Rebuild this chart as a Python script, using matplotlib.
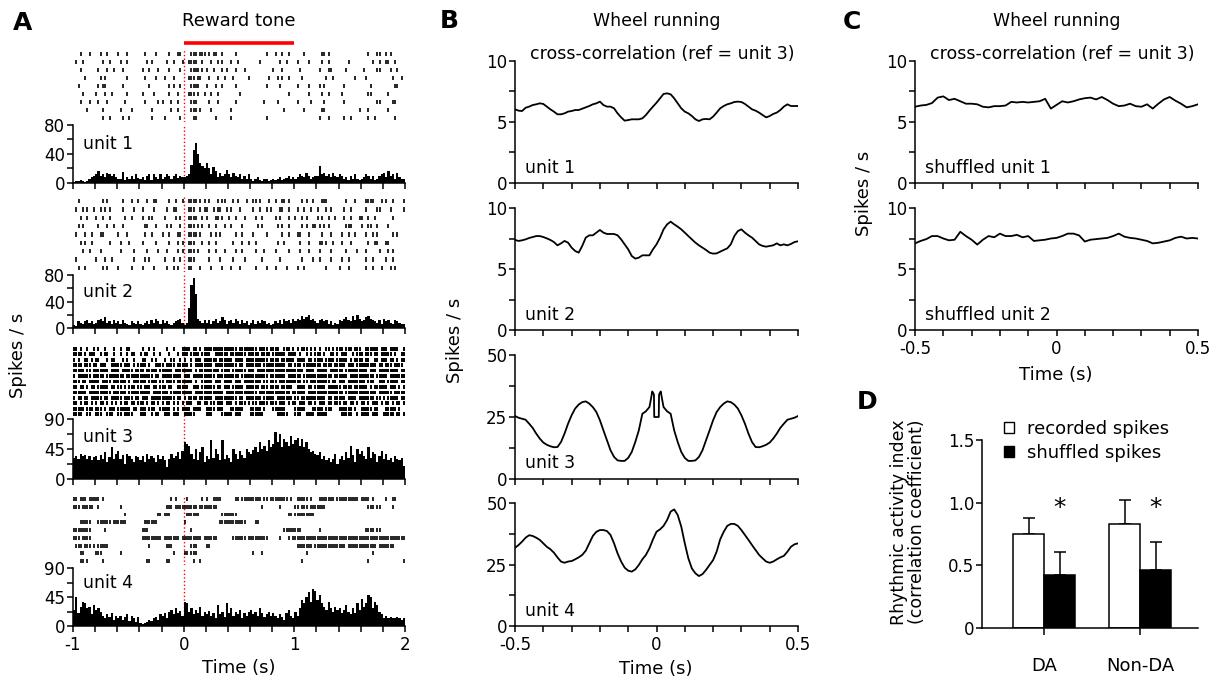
import numpy as np
import matplotlib
matplotlib.use("Agg")
import matplotlib.pyplot as plt
import matplotlib.transforms as mtransforms
from matplotlib.ticker import MultipleLocator, FuncFormatter
from matplotlib.patches import Patch

# ---------------- data ----------------
# PSTH, 20 ms bins from -1 s to 2 s (150 bins), spikes / s
psth_unit1 = [
    2, 3, 3, 4, 3, 2, 3, 5, 8, 10,
    12, 17, 10, 12, 8, 14, 12, 10, 13, 8,
    5, 6, 15, 4, 8, 6, 10, 5, 12, 7,
    6, 8, 4, 10, 12, 4, 13, 8, 6, 12,
    5, 8, 12, 10, 6, 9, 12, 7, 10, 8,
    8, 10, 12, 25, 45, 55, 40, 28, 24, 20,
    28, 20, 12, 22, 16, 8, 14, 10, 12, 18,
    12, 8, 14, 10, 8, 12, 6, 10, 5, 12,
    6, 3, 5, 8, 4, 3, 5, 6, 3, 4,
    5, 4, 6, 8, 4, 5, 7, 10, 5, 8,
    6, 8, 12, 10, 8, 14, 10, 5, 8, 10,
    10, 24, 12, 14, 10, 12, 8, 14, 10, 8,
    12, 10, 6, 8, 4, 10, 6, 12, 5, 4,
    5, 8, 12, 10, 6, 10, 4, 5, 10, 12,
    14, 8, 16, 10, 12, 6, 14, 8, 6, 5,
]
psth_unit2 = [
    5, 3, 10, 8, 6, 10, 12, 8, 10, 6,
    8, 12, 14, 10, 16, 8, 10, 6, 12, 8,
    10, 6, 12, 8, 6, 4, 10, 8, 6, 10,
    6, 4, 8, 10, 6, 12, 8, 14, 10, 6,
    12, 8, 10, 6, 4, 8, 10, 12, 14, 8,
    5, 8, 30, 65, 75, 52, 14, 10, 8, 12,
    8, 12, 6, 10, 14, 8, 10, 16, 12, 6,
    10, 12, 8, 14, 10, 6, 12, 8, 10, 4,
    8, 12, 6, 10, 8, 12, 10, 6, 8, 4,
    6, 10, 8, 12, 6, 14, 10, 12, 8, 14,
    10, 14, 12, 18, 14, 16, 20, 12, 14, 10,
    8, 12, 14, 10, 12, 6, 10, 4, 8, 6,
    12, 10, 14, 16, 12, 10, 18, 12, 20, 14,
    10, 12, 16, 18, 14, 12, 10, 8, 12, 6,
    14, 10, 12, 8, 6, 12, 10, 8, 6, 6,
]
psth_unit3 = [
    32, 35, 30, 38, 34, 36, 30, 35, 28, 33,
    34, 28, 36, 30, 40, 25, 33, 48, 30, 38,
    42, 30, 36, 22, 38, 35, 30, 25, 35, 33,
    28, 35, 26, 38, 30, 34, 32, 25, 36, 30,
    35, 28, 18, 30, 38, 32, 34, 40, 30, 42,
    55, 52, 50, 38, 30, 45, 28, 40, 48, 25,
    35, 30, 58, 32, 45, 38, 28, 58, 30, 36,
    32, 25, 45, 38, 30, 42, 36, 32, 45, 40,
    38, 44, 48, 40, 55, 45, 50, 42, 58, 48,
    52, 70, 55, 68, 48, 60, 56, 50, 65, 52,
    58, 62, 50, 60, 48, 55, 45, 40, 42, 38,
    36, 40, 30, 35, 28, 32, 25, 30, 38, 22,
    30, 35, 28, 40, 32, 50, 36, 25, 45, 38,
    42, 35, 30, 48, 32, 40, 38, 25, 35, 42,
    30, 38, 28, 32, 25, 35, 30, 28, 32, 20,
]
psth_unit4 = [
    25, 45, 20, 30, 38, 35, 28, 30, 18, 32,
    25, 28, 22, 15, 12, 18, 14, 20, 10, 16,
    12, 15, 10, 14, 18, 8, 16, 12, 6, 14,
    5, 3, 4, 6, 10, 8, 12, 14, 10, 18,
    15, 20, 12, 22, 25, 18, 28, 20, 24, 15,
    38, 35, 22, 28, 18, 25, 20, 30, 15, 22,
    18, 24, 15, 20, 12, 32, 18, 22, 14, 35,
    20, 28, 15, 22, 18, 25, 12, 20, 16, 22,
    25, 18, 22, 15, 28, 20, 14, 18, 22, 16,
    20, 15, 12, 18, 14, 10, 20, 25, 16, 12,
    22, 15, 28, 40, 35, 45, 52, 38, 58, 55,
    40, 48, 35, 30, 25, 38, 28, 22, 30, 25,
    28, 20, 25, 32, 22, 18, 28, 20, 35, 25,
    42, 30, 35, 48, 45, 28, 38, 32, 22, 18,
    12, 15, 12, 14, 12, 12, 14, 12, 10, 12,
]

# raster trials: 15 groups of 10 bins (20 ms each) per trial, '|' = spike
raster_unit1 = [
    "...|...|.. ..|..|.... |...|..... ..|....|.. ...|...||. ...|||.||| .|.||..|.. ...|...... .......|.. .|..|..|.. ....|..... ..||.|.... .......... ...|...||. .|.|......",
    ".|..|..... ...|..|... .|..|..... ...|.|.... ..|..|...| ..||||..|. ..|..|.|.. .|..|..... ....|..... ...|..|... .|....|... ..|..|.... ....|..... .....|..|. .||..|....",
    "...|...... .|...|..|. ..|....... .|..|...|. ...|....|. ...||||.|. |..|...|.| ...|...|.. .......... |...|..... ..|....... .|...||... ...|...... .|.....||. ...|..|...",
    ".....|.... ..|.|..... ....|..... ..|....|.. .|...|.... ..|||.||.. .|...|..|. ..|......| ........|. ..|.|..|.. ...|...... ....|..|.. .......|.. ..|....... ....|...|.",
    "..|....... .|.||..... ..|....... ....|..... ...|.|..|. ...||||... |...|..|.. ...|...... .......|.. ...|...... .|....|... .|.|...... ..|....... ....|..... .....||...",
    "....|..... |...|..|.. ....|..... .|....|... ...|...|.. ..|||.|..| ..|..|.... .....|.... .......... .......|.. ......|... ..|..|.... .|........ ...||..... ..|.......",
    "...|...|.. .|...|.... ...|...... ..|.....|. |...|..|.. ...|||.... .|...|.... ...|...... ......|... ..|....... .|.....|.. ...|...... ..|....... .......||. ....||....",
    "......|... ...|...... .|....|... .....|.... ....|..|.. ...|||.|.. ..|....... .|........ .......... .....|.... ....|..... ..||...... .........| ...|...... ..|.......",
    ".......... ...|..|... ..|..|.... .....|.... .|......|. ....||.... ....|..... .|........ .......|.. .......... .......... .|...|.... ..|..|.... ...|..|... .....|....",
]
raster_unit2 = [
    "..|....... ...|.|.... ..|...|..| ...|..||.. ...|..|..| ..||||.|.| .|...|.||. ..|.|...|. .||.|...|. .|..||.|.. ...|.|..|. ..|||..... ...|...|.. ..||||...| .|..|....|",
    ".|..|.|..| ..|.|.|... ..|....|.. .|....|... ..|..||... ..|||..|.| |..|.||..| .|...|.... .|..|..|.| ...||..|.. .|..|..|.. |...|.|... ..|..|.... ..|....||. ...|.....|",
    "...|..|... |..|..|... ...|..|... .|..||.... .|....|.|. ..||||..|. |...||.|.. |..|...|.. ..|..|.... .|.|...|.. |..|.|.... |.|..|..|. ..|..|...| |..|..|... ....|.....",
    "..|.|..... .|...|..|. ..|....... ..||...|.. ..|.|...|. ..|||.|.|. .|..|...|. .|....|... ...|.|.... ..|.|..|.. ...|.|..|| .|.|.|.... ...|||.... |..||..|.. ..|.......",
    ".|...|..|. ..||...... |...|..... ..|..|.... |..|...||. ..||||.|.. ..|.|.|... ...|..|... .|.....|.. ....|..|.. .||...|... ..|...|... .|..|..|.. ..|..|.|.. ....|.|...",
    "...|.|..|. ......|... .|...|.... .|.....|.. ...|...|.| ..|||...|. .|..|..... ..|...|..| ..|....... ..|..|.... ..|...|... .||.|..|.. .|...|.... ...|..||.. .||.......",
    "....|..|.. ..|....... .|.....|.. ...|....|. ..|....|.| ..|||.|... .|..|...|. ...|..|... ..|...|... .|.....|.. ..|...|... .|....|... ...|....|. ..|.....|. ..|.|.....",
    ".|........ |...|..|.. .......|.. ..|.|..... .|...|..|. ..|||..... .|....|... ..|....|.. .....|.... ...|...... ...|....|. .|....|... .|..|..... ..|..|.... .|..|.....",
    "..|..|.... ...|.|.... |.....|... .|....|... ..|..|.|.. ..||...|.. ..|....|.. .|...|.... ..|....|.. .|....|... .|..|..... ....|..... |...|..... ..|..|...| ...|.|....",
]
raster_unit3 = [
    "||.|..|..| .|..|...|. .|..||.... .|..|.|... ..|..|...| |||.||.|.| |||||||||| ||||.||||| |||.||||.| |||..|||.| .|.|||.|.| .|..||.|.| ||.|||.||| ..||||||.| ||.||||..|",
    "||||.|.||| ..|.||..|. .|..|.||.. |.||..|..| ...|...|.| ||.||||.|| ||..|||||| .|||||||.| ||||.||||. ||||||.||| |.|..|.|.| ||.|..||.| .|||..|.|| |.|||.||.| ||||.|..||",
    "|.|..||.|. ||...|.||. ..|.|..|.. .||..|.|.. .|..||..|. |..|.|||.| |||||.|||| ||.||||.|| ||||||||.| |||.|||||| .||||.||.| |||.||||.| ||||.|.||| |.||..||.| ||.||.|.||",
    "||||.|||.| |.|||..||| ||.|||.|.| |||.|..||| |.||||.||| ||.|.||||| |||.|||||| ||||.||.|| |||||.|||| ||||||.||. |||.|||||| ||.||||.|| |||.|||.|| |||||||.|| .|||.||||.",
    "|||||.||.| ||||||.||| |.|||||.|| ||.|||||.| |||||.|||| ||||.|.||| ||||||.||| |.||||||.| ||.||||||| |||||||||| ||||.||||. |||||.|||| ||.||||||| |||.|||.|| |||||||.||",
    "|.||||||.| ||||.||||| |||.|||||| ||||||.||. |||||||||. |||.|||||| ||||.||||| |||||.|||| ||||||||.| ||||||.||| |||.|||||| |||||||.|| ||||.||||| ||||||.||| ||.|||||||",
    "|||.||.||| ||.||||.|| ||||.|.||| |||.||||.| |.||||.||| ||||.|..|| |||.|||.|| ||.|||.||| |||||.||.| ||.||||||| |||.||.||| ||||||.||. |||.|||||| ||.|||..|| |.|||||.||",
    "||.||.|.|| .|||||.||. ||.|.|||.| |.|||.||.| ||.||..||| ||..|||.|| ||||.||.|| |.|||||.|| ||||.|||.| |||.|||||. .||||.||.| ||||.||||| |.||||.||| |||.|.|||| ||.|||.|.|",
    "||||||.||| |||||||.|| ||||.||||| |||||.|||| |||.|||||| ||||.||||| ||||||||.| |||||||||| |||.|||||| ||||||||.| |||||.|||| |||||||||| ||.||||||| |||||||.|| ||||.|||||",
    "|.||.||.|| |||.||.||| ||.||||.|| .|||.||||| ||||||.||. |.||||.||| |||.|||||| ||||.||.|| |||||.|||| |.|||||||. ||.||||||| ||||.||.|| |||.||||.| ||||||.||. |.|||||.||",
    "||.|.||.|. |.||.|.|.| .|.||.||.| ||.|.||.|. |.||.|.|.| .|||..||.| |.||.|||.| ||.|.|||.| .||.||||.| ||.|||.|.| |.|||.||.| .|||.||.|| |.||.||.|. ||.|.|||.| .||.|.||.|",
    "|||||.|||. |||.|.|||. ||||||.||. |||.|||..| ||||.|.|.| |||.||||.. ||||.|||.. .||||||... |||||.|... ||||||.... |||||...|| |||.|||... ||||||.|.. |||||.||.. .|||||.|..",
    "||||..||.. |||..|||.. ||.||||... |||..|.||. .|||.|||.. |||||..... |||....||| ||.|||.... ||||||.... ..|||||... |||..||||. |||||..... .|||||..|. ||||.|||.. |||||.||.|",
]
raster_unit4 = [
    "||.|||.||| ||.|...... .......... .......... ....|.|... .|......|. |..||||... ...||.|||| |||||.||.| |||||||.|. .|||||.|.. .|||||||.| |||||||||. ||||.|.... .|..||....",
    "|||.|||||. .|........ .|........ .......... ..|||.|||| ||||||.||| |||||..... .......... .....|.... ...|...... ||.|||.||| ||||...... .......... ...|||.||. ....|.....",
    ".......... .......... ...|...... ........|| .|||...... .||||||... .......||| ||||...... .......... .......||. |||||||||. .......... .......... .......... ..........",
    "...|||||.. .||||||.|| ||||...... ..||||||.. .......... |......... ......|||| ||||||||.. ..||...... .......... .......... .......... .......... .......... ..........",
    "||||||||.. ....|..... .......... .|||...... .......... ...|...... .......... .......... .......... .....||||| |||....... .|........ .......... ..||||.||. ..........",
    "|||.||||.. .......... .......... .||||||||| .|||||||.| ||||||||.| |||||..... ..||||||.| ||||||||.. ...|...|.| |||||||||| |||||||||| |||||||||| |||||||||| ||||||||||",
    ".|||.|||.| .|||||.... .......... ....|..... ..|||..... ...|||.... ||........ .......... .......... .......... .|||||||.| |||||||||| |||.|||||| |||||||.|| |||||.....",
    "...||..... |||....... .|........ .......... .....|.... ||.|||.... .......... .......... .|...|.... .......... .....|.... .......... .......... .....|.... ..........",
    "...||.|... ...|...... .......... ...||..... ..||...... ....|..|.. .......... .......... .......... .......... ...|...... .......... .......... ...|...... .........|",
]

# cross-correlograms (ref = unit 3), spikes / s, sampled every 12.5 ms
lag_b = np.round(np.arange(-0.5, 0.50001, 0.0125), 5)
xcorr_unit1 = [6.04, 5.93, 5.9, 6.17, 6.26, 6.39, 6.45, 6.53, 6.48, 6.26,
               6.04, 5.85, 5.63, 5.63, 5.71, 5.85, 5.9, 5.98, 5.98, 6.09,
               6.2, 6.31, 6.45, 6.53, 6.67, 6.39, 6.26, 6.26, 6.12, 5.71,
               5.38, 5.11, 5.16, 5.22, 5.22, 5.22, 5.3, 5.57, 5.93, 6.26,
               6.58, 6.94, 7.3, 7.35, 7.27, 6.94, 6.53, 6.12, 5.85, 5.71,
               5.49, 5.22, 5.08, 5.22, 5.25, 5.22, 5.44, 5.77, 6.12, 6.31,
               6.45, 6.53, 6.64, 6.67, 6.64, 6.48, 6.26, 6.04, 5.93, 5.77,
               5.57, 5.38, 5.49, 5.66, 5.77, 5.98, 6.26, 6.45, 6.31, 6.31, 6.31]
xcorr_unit2 = [7.38, 7.3, 7.35, 7.43, 7.54, 7.62, 7.7, 7.7, 7.62, 7.51,
               7.38, 7.21, 6.94, 7.1, 7.3, 7.16, 6.75, 6.48, 6.34, 6.89,
               7.57, 7.76, 7.76, 7.98, 8.2, 7.98, 7.87, 7.87, 7.87, 7.76,
               7.43, 7.02, 6.61, 6.07, 5.85, 5.93, 6.12, 6.12, 6.12, 6.61,
               7.02, 7.57, 8.25, 8.66, 8.88, 8.66, 8.47, 8.25, 7.98, 7.7,
               7.43, 7.16, 6.94, 6.75, 6.56, 6.34, 6.26, 6.28, 6.42, 6.56,
               6.69, 7.02, 7.7, 8.11, 8.25, 7.98, 7.76, 7.57, 7.3, 7.02,
               6.89, 6.83, 6.89, 6.94, 7.1, 6.94, 7.02, 6.94, 7.05, 7.21, 7.27]
xcorr_unit4 = [31.8, 32.9, 34.3, 35.9, 36.9, 36.6, 35.9, 35.0, 33.6, 32.2,
               31.2, 29.8, 27.9, 26.2, 25.7, 26.2, 26.4, 27.1, 27.9, 28.9,
               30.6, 33.6, 36.6, 38.3, 39.0, 39.0, 38.6, 37.0, 33.6, 29.5,
               26.2, 23.7, 22.5, 22.1, 23.0, 24.8, 27.1, 28.9, 31.6, 35.2,
               38.3, 39.3, 40.7, 43.1, 46.5, 47.4, 45.1, 40.4, 33.6, 27.5,
               23.4, 21.4, 20.3, 21.1, 22.8, 24.8, 26.8, 30.2, 35.2, 38.3,
               40.7, 41.5, 41.5, 40.7, 39.0, 37.0, 35.0, 32.9, 30.9, 28.9,
               27.5, 26.2, 25.7, 26.2, 27.1, 27.9, 28.5, 30.2, 32.2, 33.2, 33.6]
lag_auto = [-0.5, -0.4875, -0.475, -0.4625, -0.45, -0.4375, -0.425, -0.4125, -0.4, -0.3875,
            -0.375, -0.3625, -0.35, -0.3375, -0.325, -0.3125, -0.3, -0.2875, -0.275, -0.2625,
            -0.25, -0.2375, -0.225, -0.2125, -0.2, -0.1875, -0.175, -0.1625, -0.15, -0.1375,
            -0.125, -0.1125, -0.1, -0.0875, -0.075, -0.0625, -0.05, -0.0375, -0.025, -0.02,
            -0.015, -0.011, -0.009, -0.008, 0.008, 0.009, 0.011, 0.015, 0.02, 0.025,
            0.0375, 0.05, 0.0625, 0.075, 0.0875, 0.1, 0.1125, 0.125, 0.1375, 0.15,
            0.1625, 0.175, 0.1875, 0.2, 0.2125, 0.225, 0.2375, 0.25, 0.2625, 0.275,
            0.2875, 0.3, 0.3125, 0.325, 0.3375, 0.35, 0.3625, 0.375, 0.3875, 0.4,
            0.4125, 0.425, 0.4375, 0.45, 0.4625, 0.475, 0.4875, 0.5]
autocorr_unit3 = [25.4, 24.7, 24.3, 23.9, 22.3, 20.6, 18.3, 16.3, 14.7, 13.8,
                  13.2, 12.8, 12.9, 14.9, 18.3, 22.3, 25.7, 28.4, 30.0, 31.0,
                  31.3, 30.4, 29.0, 27.0, 23.7, 19.6, 15.6, 11.6, 8.9, 7.5,
                  7.3, 7.3, 8.5, 10.9, 14.9, 19.6, 26.3, 27.3, 29.0, 32.0,
                  35.3, 34.5, 34.0, 25.0, 25.0, 34.0, 34.5, 35.3, 32.0, 29.0,
                  27.3, 26.3, 19.6, 14.9, 10.9, 8.5, 7.3, 7.3, 7.5, 8.9,
                  11.6, 15.6, 19.6, 23.7, 27.0, 29.0, 30.4, 31.3, 31.0, 30.0,
                  28.4, 25.7, 22.3, 18.3, 14.9, 12.9, 12.8, 13.2, 13.8, 14.7,
                  16.3, 18.3, 20.6, 22.3, 23.9, 24.3, 24.7, 25.4]

lag_c = np.round(np.arange(-0.5, 0.5001, 0.02), 4)
shuffled_unit1 = [6.25, 6.35, 6.4, 6.55, 7.0, 7.1, 6.8, 6.9, 6.7, 6.5,
                  6.5, 6.45, 6.25, 6.2, 6.3, 6.3, 6.35, 6.65, 6.6, 6.65,
                  6.6, 6.65, 6.7, 6.9, 6.1, 6.4, 6.7, 6.6, 6.7, 6.85,
                  6.95, 7.0, 6.85, 7.05, 6.8, 6.5, 6.3, 6.35, 6.5, 6.3,
                  6.25, 6.45, 6.1, 6.5, 6.85, 7.05, 6.75, 6.5, 6.2, 6.3, 6.45]
shuffled_unit2 = [7.1, 7.3, 7.45, 7.7, 7.7, 7.5, 7.35, 7.4, 8.05, 7.7,
                  7.4, 7.0, 7.4, 7.7, 7.6, 7.9, 7.7, 7.7, 7.8, 7.6,
                  7.7, 7.3, 7.35, 7.4, 7.5, 7.55, 7.7, 7.9, 7.9, 7.75,
                  7.25, 7.4, 7.45, 7.5, 7.55, 7.7, 7.9, 7.65, 7.55, 7.5,
                  7.4, 7.3, 7.1, 7.15, 7.25, 7.35, 7.55, 7.65, 7.5, 7.55, 7.5]

# rhythmic activity index
groups = ["DA", "Non-DA"]
recorded_mean = [0.75, 0.83]
recorded_err = [0.13, 0.19]
shuffled_mean = [0.42, 0.465]
shuffled_err = [0.19, 0.225]

# ---------------- figure ----------------
plt.rcParams['font.family'] = 'DejaVu Sans'
plt.rcParams['font.size'] = 12.5
plt.rcParams['axes.unicode_minus'] = False
plt.rcParams['axes.linewidth'] = 1.1

W, H = 1211, 680
fig = plt.figure(figsize=(W / 100, H / 100), dpi=100)


def rect(x0, x1, ytop, ybot):
    return [x0 / W, 1 - ybot / H, (x1 - x0) / W, (ybot - ytop) / H]


def style(ax):
    ax.spines['top'].set_visible(False)
    ax.spines['right'].set_visible(False)
    ax.tick_params(which='both', direction='out', length=4, width=1.1, pad=1.5, labelsize=12)
    ax.tick_params(axis='x', pad=3)


def raster_times(rows):
    out = []
    for s in rows:
        t = []
        for gi, g in enumerate(s.split()):
            for ci, c in enumerate(g[:10]):
                if c == '|':
                    t.append(-1 + gi * 0.2 + (ci + 0.5) * 0.02)
        out.append(t)
    return out


def int_label(x, pos):
    return f"{int(round(x))}" if abs(x - round(x)) < 1e-6 else ""


def half_label(x, pos):
    if abs(x) < 1e-6:
        return "0"
    if abs(abs(x) - 0.5) < 1e-6:
        return f"{x:.1f}"
    return ""


# ----- panel A -----
edges = np.linspace(-1, 2, 151)
units = [
    (raster_unit1, psth_unit1, 80, (50, 122), (125, 183), 0.68),
    (raster_unit2, psth_unit2, 80, (197, 272), (275, 328), 0.68),
    (raster_unit3, psth_unit3, 90, (346, 417), (419, 479), 0.70),
    (raster_unit4, psth_unit4, 90, (495, 565), (568, 626), 0.75),
]
for i, (rows, psth, ymax, (rt, rb), (pt, pb), ty) in enumerate(units):
    axr = fig.add_axes(rect(73, 405, rt, rb))
    n = len(rows)
    times = raster_times(rows)
    axr.eventplot(times, lineoffsets=np.arange(n, 0, -1), linelengths=0.5 if n < 12 else 0.7,
                  linewidths=1.2 if n < 12 else 1.4, colors='k')
    axr.axvline(0, color='red', ls=':', lw=1.0, zorder=0)
    axr.set_xlim(-1, 2)
    axr.set_ylim(0.5, n + 0.5)
    axr.axis('off')
    if i == 0:
        blend = mtransforms.blended_transform_factory(axr.transData, axr.transAxes)
        axr.plot([0, 1], [1.10, 1.10], color='red', lw=2.6, transform=blend, clip_on=False,
                 solid_capstyle='butt')
        axr.text(0.5, 1.40, "Reward tone", transform=blend, ha='center', va='center', fontsize=13)

    axp = fig.add_axes(rect(73, 405, pt, pb))
    axp.stairs(psth, edges, fill=True, color='k')
    axp.axvline(0, color='red', ls=':', lw=1.0, zorder=0)
    axp.set_xlim(-1, 2)
    axp.set_ylim(0, ymax)
    axp.yaxis.set_major_locator(MultipleLocator(ymax / 2))
    axp.yaxis.set_minor_locator(MultipleLocator(ymax / 4))
    axp.yaxis.set_major_formatter(FuncFormatter(lambda v, p: f"{int(round(v))}"))
    axp.xaxis.set_major_locator(MultipleLocator(0.2))
    axp.xaxis.set_major_formatter(FuncFormatter(int_label))
    style(axp)
    if i < 3:
        axp.tick_params(axis='x', labelbottom=False)
    axp.text(0.03, ty, f"unit {i + 1}", transform=axp.transAxes, ha='left', va='center', fontsize=12.5)

fig.text(13 / W, 1 - 23 / H, "A", fontsize=18, fontweight='bold', ha='left', va='center')
fig.text(239 / W, 1 - 668 / H, "Time (s)", ha='center', va='center', fontsize=13)
fig.text(18 / W, 1 - 355 / H, "Spikes / s", ha='center', va='center', rotation=90, fontsize=13)


# ----- panels B and C -----
def xcorr_axes(x0, x1, ytop, ybot, lag, vals, ymax, label, bottom):
    ax = fig.add_axes(rect(x0, x1, ytop, ybot))
    ax.plot(lag, vals, color='k', lw=1.3)
    ax.set_xlim(-0.5, 0.5)
    ax.set_ylim(0, ymax)
    ax.yaxis.set_major_locator(MultipleLocator(ymax / 2))
    ax.yaxis.set_minor_locator(MultipleLocator(ymax / 4))
    ax.yaxis.set_major_formatter(FuncFormatter(lambda v, p: f"{int(round(v))}"))
    ax.xaxis.set_major_locator(MultipleLocator(0.1))
    ax.xaxis.set_major_formatter(FuncFormatter(half_label))
    style(ax)
    if not bottom:
        ax.tick_params(axis='x', labelbottom=False)
    ax.text(0.035, 0.125, label, transform=ax.transAxes, ha='left', va='center', fontsize=12.5)
    return ax


b1 = xcorr_axes(515, 798, 61, 183, lag_b, xcorr_unit1, 10, "unit 1", False)
xcorr_axes(515, 798, 208, 330, lag_b, xcorr_unit2, 10, "unit 2", False)
xcorr_axes(515, 798, 355, 479, lag_auto, autocorr_unit3, 50, "unit 3", False)
xcorr_axes(515, 798, 503, 626, lag_b, xcorr_unit4, 50, "unit 4", True)
c1 = xcorr_axes(915, 1198, 61, 183, lag_c, shuffled_unit1, 10, "shuffled unit 1", False)
xcorr_axes(915, 1198, 208, 330, lag_c, shuffled_unit2, 10, "shuffled unit 2", True)

for ax in (b1, c1):
    ax.text(0.52, 1.055, "cross-correlation (ref = unit 3)", transform=ax.transAxes,
            ha='center', va='center', fontsize=12.5)
    ax.text(0.5, 1.33, "Wheel running", transform=ax.transAxes, ha='center', va='center', fontsize=12.5)

fig.text(440 / W, 1 - 21 / H, "B", fontsize=18, fontweight='bold', ha='left', va='center')
fig.text(843 / W, 1 - 22 / H, "C", fontsize=18, fontweight='bold', ha='left', va='center')
fig.text(656 / W, 1 - 669 / H, "Time (s)", ha='center', va='center', fontsize=13)
fig.text(1056 / W, 1 - 375 / H, "Time (s)", ha='center', va='center', fontsize=13)
fig.text(455 / W, 1 - 340 / H, "Spikes / s", ha='center', va='center', rotation=90, fontsize=13)
fig.text(864 / W, 1 - 193 / H, "Spikes / s", ha='center', va='center', rotation=90, fontsize=13)

# ----- panel D -----
axd = fig.add_axes(rect(982, 1198, 440, 628))
x = np.arange(len(groups))
w = 0.323
axd.bar(x - w / 2, recorded_mean, w, color='white', edgecolor='k', lw=1.1, zorder=2)
axd.bar(x + w / 2, shuffled_mean, w, color='k', edgecolor='k', lw=1.1, zorder=2)
axd.errorbar(x - w / 2, recorded_mean, yerr=[np.zeros(len(x)), recorded_err], fmt='none',
             ecolor='k', elinewidth=1.1, capsize=4.5, capthick=1.1, zorder=1)
axd.errorbar(x + w / 2, shuffled_mean, yerr=[np.zeros(len(x)), shuffled_err], fmt='none',
             ecolor='k', elinewidth=1.1, capsize=4.5, capthick=1.1, zorder=1)
for xi in x:
    axd.text(xi + w / 2, 0.96, "*", ha='center', va='center', fontsize=18)
axd.set_xlim(-0.646, 1.604)
axd.set_ylim(0, 1.5)
axd.set_yticks([0, 0.5, 1.0, 1.5], ["0", "0.5", "1.0", "1.5"])
axd.set_xticks(x, groups)
style(axd)
axd.tick_params(axis='x', length=5, pad=16, labelsize=13)
axd.legend([Patch(facecolor='white', edgecolor='k', lw=1.0), Patch(facecolor='k', edgecolor='k')],
           ["recorded spikes", "shuffled spikes"], loc='upper left',
           bbox_to_anchor=(1004 / W, 1 - 420 / H), bbox_transform=fig.transFigure,
           frameon=False, handlelength=0.55, handleheight=0.55, handletextpad=0.7,
           labelspacing=0.35, borderpad=0, borderaxespad=0, fontsize=13)
fig.text(857 / W, 1 - 402 / H, "D", fontsize=18, fontweight='bold', ha='left', va='center')
fig.text(908 / W, 1 - 522 / H, "Rhythmic activity index\n(correlation coefficient)", ha='center',
         va='center', rotation=90, fontsize=12.5, linespacing=1.05, multialignment='center')

fig.savefig("out.png", dpi=100)
